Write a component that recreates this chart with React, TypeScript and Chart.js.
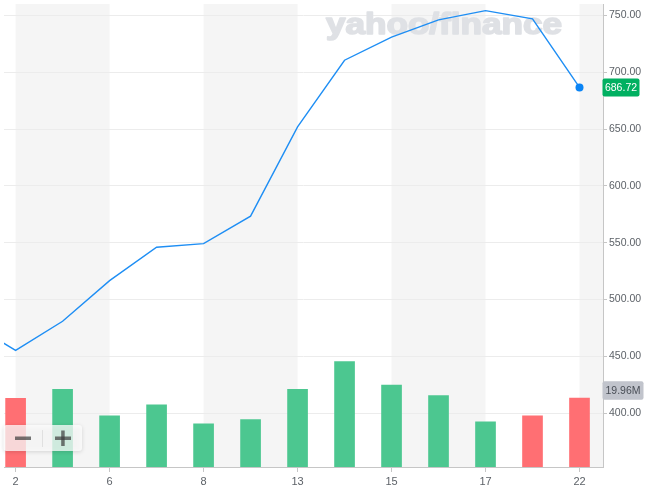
import React, { useEffect, useRef } from 'react';
import { Chart, registerables } from 'chart.js';

Chart.register(...registerables);

const dates = ['2', '3', '6', '7', '8', '10', '13', '14', '15', '16', '17', '21', '22'];
const prices = [455.3, 480.9, 516.7, 546.1, 549.2, 573.4, 652.0, 710.7, 731.1, 746.2, 754.4, 747.1, 686.72];
const prevPrice = 480;
const volumes = [19.9, 22.5, 14.8, 18.0, 12.5, 13.7, 22.5, 30.5, 23.7, 20.7, 13.1, 14.8, 19.96];
const volumeUp = [false, true, true, true, true, true, true, true, true, true, true, false, false];
const priceTicks = [400, 450, 500, 550, 600, 650, 700, 750];
const labeledIdx = [0, 2, 4, 6, 8, 10, 12];
const lastPriceText = '686.72';
const lastVolumeText = '19.96M';
const watermark = 'yahoo/finance';

const FONT = '"Liberation Sans", Arial, sans-serif';
const TICK_COLOR = '#5d6268';
const AXIS_COLOR = '#c6c6c6';

function roundRect(ctx: CanvasRenderingContext2D, x: number, y: number, w: number, h: number, r: number) {
  ctx.beginPath();
  ctx.moveTo(x + r, y);
  ctx.lineTo(x + w - r, y);
  ctx.arcTo(x + w, y, x + w, y + r, r);
  ctx.lineTo(x + w, y + h - r);
  ctx.arcTo(x + w, y + h, x + w - r, y + h, r);
  ctx.lineTo(x + r, y + h);
  ctx.arcTo(x, y + h, x, y + h - r, r);
  ctx.lineTo(x, y + r);
  ctx.arcTo(x, y, x + r, y, r);
  ctx.closePath();
}

const bandsPlugin = {
  id: 'bands',
  beforeDraw(chart: any) {
    const { ctx, chartArea } = chart;
    const xs = chart.scales.x;
    ctx.save();
    ctx.beginPath();
    ctx.rect(chartArea.left, chartArea.top, chartArea.right - chartArea.left, chartArea.bottom - chartArea.top);
    ctx.clip();
    ctx.fillStyle = '#f5f5f5';
    for (const k of labeledIdx) {
      if (k % 4 !== 0) continue;
      const x0 = xs.getPixelForValue(k);
      const x1 = xs.getPixelForValue(k + 2);
      ctx.fillRect(x0, chartArea.top, x1 - x0, chartArea.bottom - chartArea.top);
    }
    ctx.restore();
  },
  beforeDatasetsDraw(chart: any) {
    const { ctx } = chart;
    ctx.save();
    ctx.font = `bold 29px ${FONT}`;
    const w = ctx.measureText(watermark).width;
    const targetW = 236;
    ctx.translate(326, 33.5);
    ctx.scale(targetW / w, 1);
    ctx.fillStyle = '#dfe1e5';
    ctx.strokeStyle = '#dfe1e5';
    ctx.lineWidth = 1.6;
    ctx.lineJoin = 'round';
    ctx.textBaseline = 'alphabetic';
    ctx.textAlign = 'left';
    ctx.fillText(watermark, 0, 0);
    ctx.strokeText(watermark, 0, 0);
    ctx.restore();
  },
  afterDraw(chart: any) {
    const { ctx, chartArea } = chart;
    const ys = chart.scales.y;
    const yv = chart.scales.yv;
    ctx.save();
    // last price label
    const py = ys.getPixelForValue(prices[prices.length - 1]);
    ctx.fillStyle = '#00b061';
    roundRect(ctx, chartArea.right - 0.5, py - 9, 37, 18, 2);
    ctx.fill();
    ctx.fillStyle = '#ffffff';
    ctx.font = `10.5px ${FONT}`;
    ctx.textAlign = 'center';
    ctx.textBaseline = 'middle';
    ctx.fillText(lastPriceText, chartArea.right + 18, py + 0.5);
    // last volume label
    const vy = yv.getPixelForValue(volumes[volumes.length - 1]) - 7.5;
    ctx.fillStyle = '#c1c4cc';
    roundRect(ctx, chartArea.right - 0.5, vy - 9.3, 41, 18.6, 2);
    ctx.fill();
    ctx.fillStyle = '#4a4f57';
    ctx.fillText(lastVolumeText, chartArea.right + 20, vy + 0.5);

    // zoom buttons
    ctx.save();
    ctx.shadowColor = 'rgba(0,0,0,0.18)';
    ctx.shadowBlur = 4;
    ctx.shadowOffsetY = 1;
    ctx.fillStyle = 'rgba(255,255,255,0.75)';
    roundRect(ctx, 3.5, 425, 78.5, 26, 3);
    ctx.fill();
    ctx.restore();
    ctx.strokeStyle = 'rgba(0,0,0,0.08)';
    ctx.lineWidth = 1;
    ctx.beginPath();
    ctx.moveTo(42.5, 430);
    ctx.lineTo(42.5, 447);
    ctx.stroke();
    ctx.fillStyle = 'rgba(60,60,60,0.7)';
    ctx.fillRect(15, 436.5, 16, 3.5);
    ctx.fillRect(55, 436.5, 16, 3.5);
    ctx.fillRect(61.2, 430.5, 3.5, 15.5);
    ctx.restore();
  },
};

export default function App() {
  const ref = useRef<HTMLCanvasElement | null>(null);
  useEffect(() => {
    const canvas = ref.current;
    if (!canvas) return;
    const lineData = [{ x: -1, y: prevPrice }, ...prices.map((p, i) => ({ x: i, y: p }))];
    const barData = volumes.map((v, i) => ({ x: i, y: v }));
    const chart = new Chart(canvas, {
      type: 'bar',
      data: {
        datasets: [
          {
            type: 'line',
            data: lineData as any,
            borderColor: '#1e8ef4',
            borderWidth: 1.4,
            pointRadius: (c: any) => (c.dataIndex === lineData.length - 1 ? 4 : 0),
            pointBackgroundColor: '#0a84f5',
            pointBorderWidth: 0,
            pointHoverRadius: 4,
            tension: 0,
            fill: false,
            yAxisID: 'y',
            xAxisID: 'x',
            order: 0,
          } as any,
          {
            type: 'bar',
            data: barData as any,
            backgroundColor: volumeUp.map((u) => (u ? '#4cc790' : '#ff6f73')),
            barThickness: 20,
            yAxisID: 'yv',
            xAxisID: 'x',
            order: 1,
          } as any,
        ],
      },
      options: {
        animation: false,
        responsive: false,
        devicePixelRatio: 1,
        layout: { padding: 0 },
        plugins: { legend: { display: false }, tooltip: { enabled: false } },
        events: [],
        scales: {
          x: {
            type: 'linear',
            position: 'bottom',
            offset: false,
            min: -0.247,
            max: 12.5,
            bounds: 'ticks',
            afterDataLimits: (s: any) => {
              s.min = -0.247;
              s.max = 12.5;
            },
            afterBuildTicks: (s: any) => {
              s.ticks = labeledIdx.map((v) => ({ value: v }));
              s.min = -0.247;
              s.max = 12.5;
            },
            afterFit: (s: any) => {
              s.height = 24;
              s.paddingLeft = 0;
              s.paddingRight = 0;
            },
            ticks: {
              callback: (v: any) => dates[Number(v)] ?? '',
              color: TICK_COLOR,
              font: { family: FONT, size: 11 },
              padding: 3,
              maxRotation: 0,
              autoSkip: false,
            },
            grid: { offset: false, drawOnChartArea: false, drawTicks: true, tickLength: 5, tickColor: AXIS_COLOR },
            border: { color: AXIS_COLOR },
          },
          y: {
            type: 'linear',
            position: 'right',
            min: 352.6,
            max: 760.2,
            afterBuildTicks: (s: any) => {
              s.ticks = priceTicks.map((v) => ({ value: v }));
            },
            afterFit: (s: any) => {
              s.width = 53;
              s.paddingTop = 0;
              s.paddingBottom = 0;
            },
            ticks: {
              callback: (v: any) => Number(v).toFixed(2),
              color: TICK_COLOR,
              font: { family: FONT, size: 10.5 },
              padding: 2,
            },
            grid: { color: '#ececec', drawTicks: true, tickLength: 4, tickColor: AXIS_COLOR },
            border: { color: AXIS_COLOR },
          },
          yv: {
            type: 'linear',
            display: false,
            min: 0,
            max: 134,
          },
        },
      } as any,
      plugins: [bandsPlugin],
    });
    return () => chart.destroy();
  }, []);
  return (
    <div style={{ position: 'fixed', left: 0, top: 0, width: 656, height: 491 }}>
      <canvas ref={ref} width={656} height={491} style={{ width: 656, height: 491, display: 'block' }} />
    </div>
  );
}
